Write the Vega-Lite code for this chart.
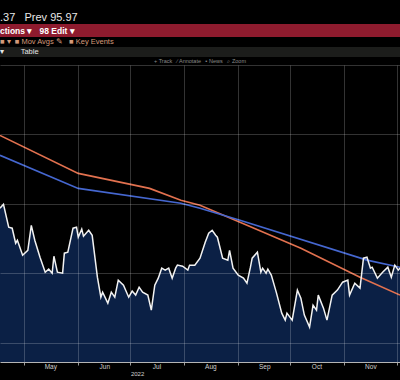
{
  "$schema": "https://vega.github.io/schema/vega-lite/v6.json",
  "background": "#000000",
  "padding": {"left": 0, "right": 0, "top": 0, "bottom": 6},
  "spacing": 0,
  "bounds": "flush",
  "config": {"font": "Liberation Sans", "view": {"stroke": null}},
  "datasets": {
    "price": [
      {"date": "2022-04-17", "value": 99.68}, {"date": "2022-04-19", "value": 99.96}, {"date": "2022-04-22", "value": 98.31},
      {"date": "2022-04-24", "value": 98.24}, {"date": "2022-04-26", "value": 97.16}, {"date": "2022-04-27", "value": 97.37},
      {"date": "2022-04-30", "value": 96.29}, {"date": "2022-05-03", "value": 96.65}, {"date": "2022-05-05", "value": 98.45},
      {"date": "2022-05-07", "value": 97.37}, {"date": "2022-05-10", "value": 96.15}, {"date": "2022-05-13", "value": 95.07},
      {"date": "2022-05-15", "value": 95.29}, {"date": "2022-05-17", "value": 95.0}, {"date": "2022-05-18", "value": 96.22},
      {"date": "2022-05-20", "value": 95.07}, {"date": "2022-05-23", "value": 95.0}, {"date": "2022-05-24", "value": 96.44},
      {"date": "2022-05-26", "value": 96.51}, {"date": "2022-05-29", "value": 98.24}, {"date": "2022-05-31", "value": 98.31},
      {"date": "2022-06-01", "value": 97.59}, {"date": "2022-06-03", "value": 98.17}, {"date": "2022-06-04", "value": 97.66},
      {"date": "2022-06-07", "value": 98.09}, {"date": "2022-06-09", "value": 97.73}, {"date": "2022-06-12", "value": 94.71},
      {"date": "2022-06-14", "value": 93.27}, {"date": "2022-06-15", "value": 93.63}, {"date": "2022-06-18", "value": 92.84},
      {"date": "2022-06-20", "value": 93.63}, {"date": "2022-06-22", "value": 93.27}, {"date": "2022-06-24", "value": 94.5},
      {"date": "2022-06-27", "value": 94.14}, {"date": "2022-06-30", "value": 93.27}, {"date": "2022-07-02", "value": 93.71},
      {"date": "2022-07-04", "value": 93.42}, {"date": "2022-07-06", "value": 93.99}, {"date": "2022-07-08", "value": 93.63},
      {"date": "2022-07-11", "value": 93.42}, {"date": "2022-07-13", "value": 92.34}, {"date": "2022-07-15", "value": 94.14},
      {"date": "2022-07-17", "value": 94.64}, {"date": "2022-07-19", "value": 95.36}, {"date": "2022-07-21", "value": 95.22},
      {"date": "2022-07-23", "value": 95.36}, {"date": "2022-07-25", "value": 94.64}, {"date": "2022-07-27", "value": 95.36},
      {"date": "2022-07-28", "value": 95.58}, {"date": "2022-07-31", "value": 95.5}, {"date": "2022-08-03", "value": 95.22},
      {"date": "2022-08-04", "value": 95.58}, {"date": "2022-08-07", "value": 95.58}, {"date": "2022-08-10", "value": 96.08},
      {"date": "2022-08-13", "value": 97.23}, {"date": "2022-08-15", "value": 97.88}, {"date": "2022-08-17", "value": 98.09},
      {"date": "2022-08-19", "value": 97.73}, {"date": "2022-08-20", "value": 97.59}, {"date": "2022-08-23", "value": 96.08},
      {"date": "2022-08-26", "value": 95.94}, {"date": "2022-08-27", "value": 96.65}, {"date": "2022-08-29", "value": 95.36},
      {"date": "2022-09-01", "value": 94.86}, {"date": "2022-09-04", "value": 94.64}, {"date": "2022-09-06", "value": 94.28},
      {"date": "2022-09-08", "value": 95.43}, {"date": "2022-09-09", "value": 96.08}, {"date": "2022-09-12", "value": 96.51},
      {"date": "2022-09-14", "value": 95.07}, {"date": "2022-09-15", "value": 95.36}, {"date": "2022-09-17", "value": 95.0},
      {"date": "2022-09-18", "value": 95.29}, {"date": "2022-09-20", "value": 94.86}, {"date": "2022-09-23", "value": 93.56},
      {"date": "2022-09-26", "value": 92.12}, {"date": "2022-09-28", "value": 91.62}, {"date": "2022-09-29", "value": 92.12},
      {"date": "2022-10-02", "value": 91.62}, {"date": "2022-10-05", "value": 93.78}, {"date": "2022-10-07", "value": 93.2},
      {"date": "2022-10-09", "value": 91.98}, {"date": "2022-10-12", "value": 91.12}, {"date": "2022-10-14", "value": 92.7},
      {"date": "2022-10-16", "value": 92.34}, {"date": "2022-10-17", "value": 93.42}, {"date": "2022-10-20", "value": 92.48},
      {"date": "2022-10-22", "value": 91.62}, {"date": "2022-10-25", "value": 93.42}, {"date": "2022-10-28", "value": 93.78},
      {"date": "2022-10-31", "value": 94.35}, {"date": "2022-11-03", "value": 94.5}, {"date": "2022-11-04", "value": 93.42},
      {"date": "2022-11-07", "value": 94.28}, {"date": "2022-11-10", "value": 93.92}, {"date": "2022-11-12", "value": 96.08},
      {"date": "2022-11-14", "value": 96.15}, {"date": "2022-11-16", "value": 95.36}, {"date": "2022-11-17", "value": 95.43},
      {"date": "2022-11-20", "value": 94.64}, {"date": "2022-11-23", "value": 95.07}, {"date": "2022-11-26", "value": 95.43},
      {"date": "2022-11-28", "value": 94.71}, {"date": "2022-11-30", "value": 95.58}, {"date": "2022-12-02", "value": 95.22},
      {"date": "2022-12-03", "value": 95.37}
    ],
    "movavg": [
      {"date": "2022-04-17", "series": "MA 200", "value": 104.93}, {"date": "2022-06-01", "series": "MA 200", "value": 102.19},
      {"date": "2022-07-12", "series": "MA 200", "value": 101.11}, {"date": "2022-07-30", "series": "MA 200", "value": 100.25},
      {"date": "2022-08-10", "series": "MA 200", "value": 99.89}, {"date": "2022-09-02", "series": "MA 200", "value": 98.67},
      {"date": "2022-10-07", "series": "MA 200", "value": 96.8}, {"date": "2022-11-10", "series": "MA 200", "value": 94.71},
      {"date": "2022-12-03", "series": "MA 200", "value": 93.42},
      {"date": "2022-04-17", "series": "MA 100", "value": 103.49}, {"date": "2022-06-01", "series": "MA 100", "value": 101.11},
      {"date": "2022-07-30", "series": "MA 100", "value": 100.04}, {"date": "2022-08-10", "series": "MA 100", "value": 99.68},
      {"date": "2022-09-02", "series": "MA 100", "value": 98.81}, {"date": "2022-11-14", "series": "MA 100", "value": 95.94},
      {"date": "2022-12-03", "series": "MA 100", "value": 95.43}
    ]
  },
  "vconcat": [
    {
      "width": 400, "height": 24,
      "data": {"values": [{"label": ".37\u00a0\u00a0\u00a0Prev 95.97"}]},
      "mark": {"type": "text", "align": "left", "baseline": "top", "fontSize": 11, "color": "#e8e8e8"},
      "encoding": {
        "x": {"datum": 0, "type": "quantitative", "scale": {"domain": [0, 1]}, "axis": null},
        "text": {"field": "label"}
      }
    },
    {
      "width": 400, "height": 13,
      "view": {"fill": "#8e1b2e", "stroke": null},
      "data": {"values": [{"label": "ctions \u25be\u00a0\u00a0\u00a098 Edit \u25be"}]},
      "mark": {"type": "text", "align": "left", "baseline": "middle", "fontSize": 8.5, "fontWeight": "bold", "color": "#ffffff"},
      "encoding": {
        "x": {"datum": 0, "type": "quantitative", "scale": {"domain": [0, 1]}, "axis": null},
        "text": {"field": "label"}
      }
    },
    {
      "width": 400, "height": 10,
      "data": {"values": [{"label": "\u25a0 \u25be\u00a0 \u25a0 Mov Avgs \u270e\u00a0\u00a0 \u25a0 Key Events"}]},
      "mark": {"type": "text", "align": "left", "baseline": "middle", "fontSize": 7.5, "color": "#d49a7a"},
      "encoding": {
        "x": {"datum": 0, "type": "quantitative", "scale": {"domain": [0, 1]}, "axis": null},
        "text": {"field": "label"}
      }
    },
    {
      "width": 400, "height": 10,
      "view": {"fill": "#1c1d1b", "stroke": null},
      "data": {"values": [{"label": "\u00a0\u00a0\u00a0\u00a0\u00a0\u25be\u00a0\u00a0\u00a0\u00a0\u00a0\u00a0\u00a0\u00a0Table"}]},
      "mark": {"type": "text", "align": "left", "baseline": "middle", "fontSize": 7.5, "color": "#e6e6e6"},
      "encoding": {
        "x": {"datum": 0, "type": "quantitative", "scale": {"domain": [0, 1]}, "axis": null},
        "text": {"field": "label"}
      }
    },
    {
      "width": 400, "height": 8,
      "data": {"values": [{"label": "+ Track\u00a0\u00a0\u00a0\u2215 Annotate\u00a0\u00a0\u00a0\u25aa News\u00a0\u00a0\u00a0\u2315 Zoom"}]},
      "mark": {"type": "text", "align": "center", "baseline": "middle", "fontSize": 5.5, "color": "#8a8a8a"},
      "encoding": {"text": {"field": "label"}}
    },
    {
      "width": 400, "height": 297,
      "layer": [
        {
          "data": {"name": "price"},
          "mark": {"type": "area", "color": "#0b2045", "clip": true},
          "encoding": {
            "x": {
              "field": "date", "type": "temporal",
              "scale": {"type": "utc", "domain": [{"year": 2022, "month": 4, "date": 17, "utc": true}, {"year": 2022, "month": 12, "date": 3, "utc": true}]},
              "axis": {
                "orient": "bottom",
                "values": [
                  {"year": 2022, "month": 5, "date": 1, "utc": true}, {"year": 2022, "month": 6, "date": 1, "utc": true},
                  {"year": 2022, "month": 7, "date": 1, "utc": true}, {"year": 2022, "month": 8, "date": 1, "utc": true},
                  {"year": 2022, "month": 9, "date": 1, "utc": true}, {"year": 2022, "month": 10, "date": 1, "utc": true},
                  {"year": 2022, "month": 11, "date": 1, "utc": true}, {"year": 2022, "month": 12, "date": 1, "utc": true}
                ],
                "labels": false, "grid": true, "gridColor": "#ffffff", "gridOpacity": 0.2, "gridWidth": 1,
                "ticks": true, "tickSize": 3, "tickColor": "#9a9a9a", "domain": true, "domainColor": "#b4b4b4",
                "title": null, "zindex": 1
              }
            },
            "y": {
              "field": "value", "type": "quantitative",
              "scale": {"domain": [88.6, 110], "zero": false, "nice": false},
              "axis": {"values": [90, 95, 100, 105, 110], "grid": true, "gridColor": "#ffffff", "gridOpacity": 0.2, "labels": false, "ticks": false, "domain": false, "title": null, "zindex": 1}
            }
          }
        },
        {
          "data": {"name": "movavg"},
          "mark": {"type": "line", "strokeWidth": 1.6, "clip": true},
          "encoding": {
            "x": {
              "field": "date", "type": "temporal",
              "axis": {
                "orient": "bottom",
                "values": [
                  {"year": 2022, "month": 5, "date": 1, "utc": true}, {"year": 2022, "month": 6, "date": 1, "utc": true},
                  {"year": 2022, "month": 7, "date": 1, "utc": true}, {"year": 2022, "month": 8, "date": 1, "utc": true},
                  {"year": 2022, "month": 9, "date": 1, "utc": true}, {"year": 2022, "month": 10, "date": 1, "utc": true},
                  {"year": 2022, "month": 11, "date": 1, "utc": true}
                ],
                "format": "%b", "labelOffset": 26, "labelAlign": "center", "labelColor": "#d0d0d0", "labelFontSize": 6.5,
                "labelPadding": 1, "ticks": false, "domain": false, "grid": false, "title": null,
                "labelOverlap": false, "labelFlush": false, "labelBound": false
              }
            },
            "y": {
              "field": "value", "type": "quantitative",
              "axis": {"values": [90, 95, 100, 105, 110], "grid": true, "gridColor": "#ffffff", "gridOpacity": 0.2, "labels": false, "ticks": false, "domain": false, "title": null, "zindex": 1}
            },
            "color": {"field": "series", "type": "nominal", "scale": {"domain": ["MA 200", "MA 100"], "range": ["#e2714f", "#4567d0"]}, "legend": null}
          }
        },
        {
          "data": {"name": "price"},
          "mark": {"type": "line", "color": "#f2f2f2", "strokeWidth": 1.5, "clip": true},
          "encoding": {
            "x": {
              "field": "date", "type": "temporal",
              "axis": {
                "orient": "bottom",
                "values": [{"year": 2022, "month": 7, "date": 1, "utc": true}],
                "format": "%Y", "labelAlign": "left", "labelColor": "#d0d0d0", "labelFontSize": 6,
                "labelPadding": 8, "ticks": false, "domain": false, "grid": false, "title": null,
                "labelOverlap": false, "labelFlush": false, "labelBound": false
              }
            },
            "y": {
              "field": "value", "type": "quantitative",
              "axis": {"values": [90, 95, 100, 105, 110], "grid": true, "gridColor": "#ffffff", "gridOpacity": 0.2, "labels": false, "ticks": false, "domain": false, "title": null, "zindex": 1}
            }
          }
        }
      ],
      "resolve": {"axis": {"x": "independent"}}
    }
  ]
}
